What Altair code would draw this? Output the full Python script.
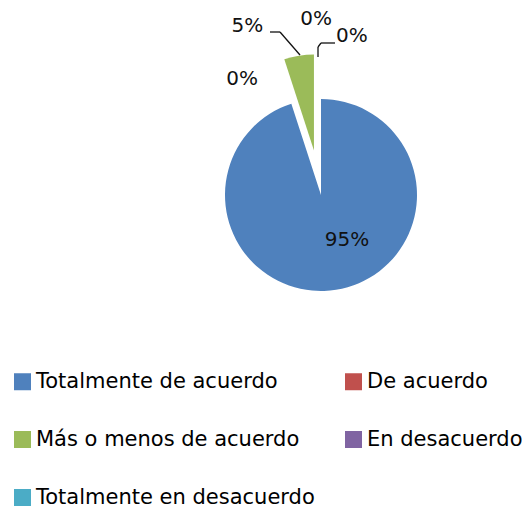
import math
import altair as alt
import pandas as pd

# ---- data ----
categories = ["Totalmente de acuerdo", "De acuerdo", "Más o menos de acuerdo",
              "En desacuerdo", "Totalmente en desacuerdo"]
values = [95, 0, 5, 0, 0]
labels = ["95%", "0%", "5%", "0%", "0%"]
colors = ["#4F81BD", "#C0504D", "#9BBB59", "#8064A2", "#4BACC6"]
# legend fills column by column: this order gives the row-wise reading of the reference
legend_order = ["Totalmente de acuerdo", "Más o menos de acuerdo", "Totalmente en desacuerdo",
                "De acuerdo", "En desacuerdo"]

df = pd.DataFrame({"cat": categories, "value": values, "label": labels,
                   "order": list(range(len(categories)))})

# ---- style / layout constants ----
CX, CY, R = 313, 187, 96
EXPLODED = "Más o menos de acuerdo"
EXPLODE_DIST = 45
EXPLODE_ANGLE = math.radians(351)
EX_X = CX + EXPLODE_DIST * math.sin(EXPLODE_ANGLE)
EX_Y = CY - EXPLODE_DIST * math.cos(EXPLODE_ANGLE)
FONT = "DejaVu Sans"

# label placement (radius, theta offset in degrees) per category
label_style = {
    "Totalmente de acuerdo": (52, -21),
    "De acuerdo": (140, -16.3),
    "Más o menos de acuerdo": (184, -14.6),
    "En desacuerdo": (176, -1.6),
    "Totalmente en desacuerdo": (162, 11),
}

theta_scale = alt.Scale(domain=[0, 100], range=[0, 2 * math.pi])
color = alt.Color(
    "cat:N",
    scale=alt.Scale(domain=categories, range=colors),
    sort=None,
    legend=alt.Legend(
        title=None, orient="none", legendX=4, legendY=363, columns=2,
        values=legend_order,
        symbolType="square", symbolSize=289, symbolStrokeWidth=0,
        labelFontSize=21, labelFont=FONT, labelColor="black",
        rowPadding=36, columnPadding=28, labelOffset=3, padding=0,
        labelLimit=500,
    ),
)

base = alt.Chart(df).transform_window(
    cum="sum(value)", sort=[alt.SortField("order")], frame=[None, 0]
).transform_calculate(
    start="datum.cum - datum.value",
    mid="datum.cum - datum.value / 2",
)

main_arc = base.transform_filter(alt.datum.cat != EXPLODED).mark_arc(radius=R).encode(
    theta=alt.Theta("start:Q", scale=theta_scale, stack=None),
    theta2=alt.Theta2("cum:Q"),
    color=color,
    x=alt.value(CX), y=alt.value(CY),
)

exploded_arc = base.transform_filter(alt.datum.cat == EXPLODED).mark_arc(radius=R).encode(
    theta=alt.Theta("start:Q", scale=theta_scale, stack=None),
    theta2=alt.Theta2("cum:Q"),
    color=color,
    x=alt.value(EX_X), y=alt.value(EX_Y),
)

text_layers = []
for cat in categories:
    r, off = label_style[cat]
    text_layers.append(
        base.transform_filter(alt.datum.cat == cat).mark_text(
            radius=r, thetaOffset=math.radians(off), fontSize=20, font=FONT,
            color="#111111", align="center", baseline="middle",
        ).encode(
            theta=alt.Theta("mid:Q", scale=theta_scale, stack=None),
            text="label:N",
            x=alt.value(CX), y=alt.value(CY),
        )
    )

# leader lines (annotation segments)
segments = [
    (262, 24, 272, 24), (272, 24, 292, 47),
    (310, 49, 310, 39), (310, 39, 313, 35), (313, 35, 327, 35),
]
dummy = pd.DataFrame({"k": [0]})
leaders = [
    alt.Chart(dummy).mark_rule(color="#111111", strokeWidth=1.3).encode(
        x=alt.value(a), y=alt.value(b), x2=alt.value(c), y2=alt.value(d)
    )
    for a, b, c, d in segments
]

chart = alt.layer(main_arc, exploded_arc, *text_layers, *leaders).properties(
    width=514, height=500, padding=0,
    autosize=alt.AutoSizeParams(type="fit", contains="padding"),
).configure_view(strokeWidth=0)

chart.save("out.html", embed_options={"renderer": "svg", "actions": False})
